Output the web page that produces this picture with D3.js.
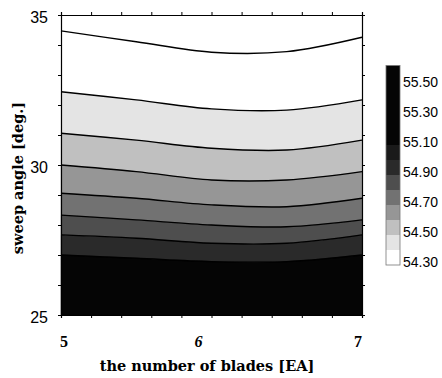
<!DOCTYPE html>
<html>
<head>
<meta charset="utf-8">
<script src="https://cdn.jsdelivr.net/npm/d3@7"></script>
<style>
  html, body { margin: 0; padding: 0; background: #fff; }
  svg { display: block; }
</style>
</head>
<body>
<svg id="chart" width="442" height="378"></svg>
<script>
// ---- data ----
const bladePoints = [5, 5.5, 6, 6.5, 7];
const contourLevels = [54.3, 54.4, 54.5, 54.6, 54.7, 54.8, 54.9, 55.0];
// sweep angle of each contour line at each bladePoints value
const contourAngles = [
  [34.47, 34.11, 33.76, 33.78, 34.26],
  [32.44, 32.17, 31.87, 31.83, 32.17],
  [31.06, 30.83, 30.56, 30.50, 30.83],
  [30.00, 29.78, 29.50, 29.50, 29.78],
  [29.06, 28.89, 28.67, 28.61, 28.89],
  [28.33, 28.17, 28.00, 27.94, 28.17],
  [27.67, 27.56, 27.39, 27.39, 27.67],
  [27.00, 26.89, 26.78, 26.78, 27.00]
];
const bladeTicks = [5, 6, 7];
const angleTicks = [25, 30, 35];
const legendLevels = [54.3, 54.4, 54.5, 54.6, 54.7, 54.8, 54.9, 55.0, 55.1, 55.2, 55.3, 55.4, 55.5, 55.63];
const legendLabels = [54.3, 54.5, 54.7, 54.9, 55.1, 55.3, 55.5];

// ---- styles ----
const bandColors = ["#ffffff", "#ffffff", "#e4e4e4", "#c0c0c0", "#969696", "#727272", "#4e4e4e", "#2a2a2a", "#050505"];
const legendColors = ["#ffffff", "#e4e4e4", "#c0c0c0", "#969696", "#727272", "#4e4e4e", "#2a2a2a", "#1a1a1a", "#050505", "#050505", "#050505", "#050505", "#050505"];

const svg = d3.select("#chart");
const x = d3.scaleLinear().domain([5, 7]).range([61, 362]);
const y = d3.scaleLinear().domain([25, 35]).range([315, 15]);

// bands
const topEdge = bladePoints.map(() => 35);
const bottomEdge = bladePoints.map(() => 25);
const edges = [topEdge, ...contourAngles, bottomEdge];
const curve = d3.curveCatmullRom.alpha(0.5);

const area = d3.area()
  .x((d, i) => x(bladePoints[i]))
  .y0(d => y(d[1]))
  .y1(d => y(d[0]))
  .curve(curve);

const g = svg.append("g");
for (let b = 0; b < edges.length - 1; b++) {
  const upper = edges[b], lower = edges[b + 1];
  const pts = bladePoints.map((_, i) => [upper[i], lower[i]]);
  g.append("path").attr("d", area(pts)).attr("fill", bandColors[b]).attr("stroke", bandColors[b]).attr("stroke-width", 0.5);
}

const line = d3.line()
  .x((d, i) => x(bladePoints[i]))
  .y(d => y(d))
  .curve(curve);
contourAngles.forEach(c => {
  g.append("path").attr("d", line(c)).attr("fill", "none").attr("stroke", "#000").attr("stroke-width", 1.4);
});

// frame with ticks
const tickFont = "'Liberation Sans', Arial, sans-serif";
svg.append("g").attr("transform", `translate(0,${y(25)})`)
  .call(d3.axisBottom(x).tickValues(d3.range(5, 7.001, 0.2)).tickSize(3).tickFormat(""));
svg.append("g").attr("transform", `translate(0,${y(35)})`)
  .call(d3.axisTop(x).tickValues(d3.range(5, 7.001, 0.2)).tickSize(3).tickFormat(""));
svg.append("g").attr("transform", `translate(${x(5)},0)`)
  .call(d3.axisLeft(y).tickValues(d3.range(25, 35.001, 1)).tickSize(3).tickFormat(""));
svg.append("g").attr("transform", `translate(${x(7)},0)`)
  .call(d3.axisRight(y).tickValues(d3.range(25, 35.001, 1)).tickSize(3).tickFormat(""));
svg.selectAll(".domain").attr("stroke", "#000").attr("stroke-width", 1.2);

// y tick labels
svg.append("g").selectAll("text").data(angleTicks).join("text")
  .attr("x", x(5) - 13).attr("y", d => y(d) + 2)
  .attr("text-anchor", "end").attr("dominant-baseline", "central")
  .style("font-family", tickFont).style("font-size", "16px")
  .text(d => d);

// x tick labels
const xAnchor = {5: "start", 6: "middle", 7: "end"};
const xShift = {5: -1, 6: -13, 7: 0};
svg.append("g").selectAll("text").data(bladeTicks).join("text")
  .attr("x", d => x(d) + xShift[d]).attr("y", y(25) + 26)
  .attr("text-anchor", d => xAnchor[d]).attr("dominant-baseline", "central")
  .style("font-family", "'Liberation Serif', serif").style("font-size", "16px")
  .style("font-weight", "bold").style("font-style", d => d === 6 ? "italic" : "normal")
  .text(d => d);

// axis titles
svg.append("text")
  .attr("x", 207).attr("y", 365)
  .attr("text-anchor", "middle").attr("dominant-baseline", "central")
  .style("font-family", "'DejaVu Serif', serif").style("font-size", "14.5px").style("font-weight", "bold")
  .text("the number of blades [EA]");
svg.append("text")
  .attr("transform", "translate(17,178) rotate(-90)")
  .attr("text-anchor", "middle").attr("dominant-baseline", "central")
  .style("font-family", "'DejaVu Serif', serif").style("font-size", "14.5px").style("font-weight", "bold")
  .text("sweep angle [deg.]");

// legend
const ly = d3.scaleLinear().domain([54.3, 55.5]).range([265, 85]);
const lg = svg.append("g");
for (let i = 0; i < legendLevels.length - 1; i++) {
  lg.append("rect")
    .attr("x", 386).attr("width", 14)
    .attr("y", ly(legendLevels[i + 1])).attr("height", ly(legendLevels[i]) - ly(legendLevels[i + 1]))
    .attr("fill", legendColors[i]);
}
lg.append("rect").attr("x", 386).attr("width", 14)
  .attr("y", ly(legendLevels[legendLevels.length - 1]))
  .attr("height", ly(legendLevels[0]) - ly(legendLevels[legendLevels.length - 1]))
  .attr("fill", "none").attr("stroke", "#777").attr("stroke-width", 0.8);
lg.selectAll("text").data(legendLabels).join("text")
  .attr("x", 403).attr("y", d => ly(d) - 3)
  .attr("dominant-baseline", "central")
  .style("font-family", tickFont).style("font-size", "14px")
  .text(d => d.toFixed(2));
</script>
</body>
</html>
